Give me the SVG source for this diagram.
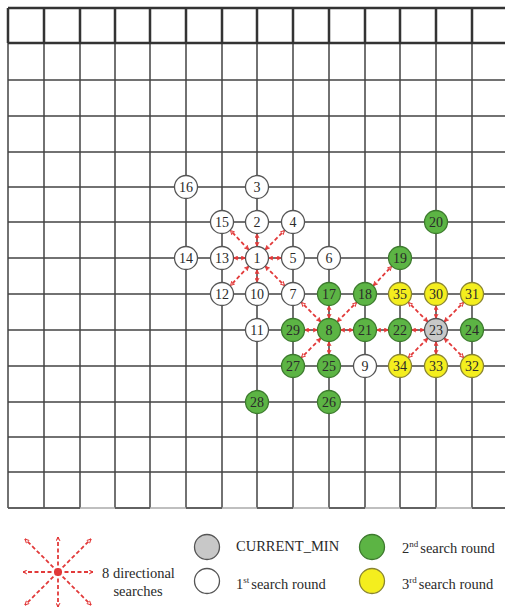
<svg xmlns="http://www.w3.org/2000/svg" width="505" height="614" viewBox="0 0 505 614" font-family="Liberation Serif, Times New Roman, serif">
<style>
.g{stroke:#444;stroke-width:1.5;fill:none}
.gt{stroke:#333;stroke-width:2.5;fill:none}
.w{fill:#fff;stroke:#555;stroke-width:1.3}
.gr{fill:#5cb444;stroke:#3d7a2e;stroke-width:1.3}
.y{fill:#f4ee1e;stroke:#8a8530;stroke-width:1.3}
.c{fill:#c8c8c8;stroke:#555;stroke-width:1.3}
.n{font-size:14px;fill:#2a2a2a;text-anchor:middle}
.l{font-size:14.5px;fill:#2a2a2a}
.a{stroke:#e23a3a;stroke-width:1.8;stroke-dasharray:4 2.5;fill:none;marker-start:url(#ah);marker-end:url(#ah)}
.s{stroke:#e23a3a;stroke-width:1.8;stroke-dasharray:4 2.5;fill:none;marker-end:url(#ah)}
</style>
<defs>
<marker id="ah" viewBox="0 0 10 10" refX="9" refY="5" markerWidth="5" markerHeight="5" markerUnits="userSpaceOnUse" orient="auto-start-reverse">
<path d="M1,1 L9,5 L1,9" fill="none" stroke="#e23a3a" stroke-width="2"/>
</marker>
</defs>
<rect width="505" height="614" fill="#fff"/>
<g id="grid">
<path class="g" d="M8,80H505M8,116H505M8,152H505M8,187H505M8,222H505M8,258H505M8,294H505M8,330H505M8,366H505M8,402H505M8,437H505M8,472H505"/>
<path class="g" d="M8,43V508M44,43V508M80,43V508M115,43V508M150,43V508M186,43V508M222,43V508M257,43V508M293,43V508M329,43V508M365,43V508M400,43V508M436,43V508M472,43V508"/>
<path stroke="#aaa" stroke-width="1.5" d="M8,508H505"/>
<path class="g" d="M8,508H80M115,508H150M186,508H222M257,508H293M329,508H365M400,508H436M472,508H505"/>
<path class="gt" d="M8,8H505M8,43H505M8,8V43M44,8V43M80,8V43M115,8V43M150,8V43M186,8V43M222,8V43M257,8V43M293,8V43M329,8V43M365,8V43M400,8V43M436,8V43M472,8V43"/>
</g>
<g id="connectors">
<path class="a" d="M257,246V234"/>
<path class="a" d="M265.5,249.5L284.5,230.5"/>
<path class="a" d="M269,258H281"/>
<path class="a" d="M265.5,266.5L284.5,285.5"/>
<path class="a" d="M257,270V282"/>
<path class="a" d="M248.5,266.5L230.5,285.5"/>
<path class="a" d="M245,258H234"/>
<path class="a" d="M248.5,249.5L230.5,230.5"/>
<path class="a" d="M320.5,321.5L301.5,302.5"/>
<path class="a" d="M329,318V306"/>
<path class="a" d="M337.5,321.5L356.5,302.5"/>
<path class="a" d="M341,330H353"/>
<path class="a" d="M329,342V354"/>
<path class="a" d="M320.5,338.5L301.5,357.5"/>
<path class="a" d="M317,330H305"/>
<path class="a" d="M373.5,285.5L391.5,266.5"/>
<path class="a" d="M377,330H388"/>
<path class="a" d="M424,330H412"/>
<path class="a" d="M427.5,321.5L408.5,302.5"/>
<path class="a" d="M436,318V306"/>
<path class="a" d="M444.5,321.5L463.5,302.5"/>
<path class="a" d="M444.5,338.5L463.5,357.5"/>
<path class="a" d="M436,342V354"/>
<path class="a" d="M427.5,338.5L408.5,357.5"/>
</g>
<g id="n16"><circle class="w" cx="186" cy="187" r="11.5"/><text class="n" x="186" y="192">16</text></g>
<g id="n3"><circle class="w" cx="257" cy="187" r="11.5"/><text class="n" x="257" y="192">3</text></g>
<g id="n15"><circle class="w" cx="222" cy="222" r="11.5"/><text class="n" x="222" y="227">15</text></g>
<g id="n2"><circle class="w" cx="257" cy="222" r="11.5"/><text class="n" x="257" y="227">2</text></g>
<g id="n4"><circle class="w" cx="293" cy="222" r="11.5"/><text class="n" x="293" y="227">4</text></g>
<g id="n20"><circle class="gr" cx="436" cy="222" r="11.5"/><text class="n" x="436" y="227">20</text></g>
<g id="n14"><circle class="w" cx="186" cy="258" r="11.5"/><text class="n" x="186" y="263">14</text></g>
<g id="n13"><circle class="w" cx="222" cy="258" r="11.5"/><text class="n" x="222" y="263">13</text></g>
<g id="n1"><circle class="w" cx="257" cy="258" r="11.5"/><text class="n" x="257" y="263">1</text></g>
<g id="n5"><circle class="w" cx="293" cy="258" r="11.5"/><text class="n" x="293" y="263">5</text></g>
<g id="n6"><circle class="w" cx="329" cy="258" r="11.5"/><text class="n" x="329" y="263">6</text></g>
<g id="n19"><circle class="gr" cx="400" cy="258" r="11.5"/><text class="n" x="400" y="263">19</text></g>
<g id="n12"><circle class="w" cx="222" cy="294" r="11.5"/><text class="n" x="222" y="299">12</text></g>
<g id="n10"><circle class="w" cx="257" cy="294" r="11.5"/><text class="n" x="257" y="299">10</text></g>
<g id="n7"><circle class="w" cx="293" cy="294" r="11.5"/><text class="n" x="293" y="299">7</text></g>
<g id="n17"><circle class="gr" cx="329" cy="294" r="11.5"/><text class="n" x="329" y="299">17</text></g>
<g id="n18"><circle class="gr" cx="365" cy="294" r="11.5"/><text class="n" x="365" y="299">18</text></g>
<g id="n35"><circle class="y" cx="400" cy="294" r="11.5"/><text class="n" x="400" y="299">35</text></g>
<g id="n30"><circle class="y" cx="436" cy="294" r="11.5"/><text class="n" x="436" y="299">30</text></g>
<g id="n31"><circle class="y" cx="472" cy="294" r="11.5"/><text class="n" x="472" y="299">31</text></g>
<g id="n11"><circle class="w" cx="257" cy="330" r="11.5"/><text class="n" x="257" y="335">11</text></g>
<g id="n29"><circle class="gr" cx="293" cy="330" r="11.5"/><text class="n" x="293" y="335">29</text></g>
<g id="n8"><circle class="gr" cx="329" cy="330" r="11.5"/><text class="n" x="329" y="335">8</text></g>
<g id="n21"><circle class="gr" cx="365" cy="330" r="11.5"/><text class="n" x="365" y="335">21</text></g>
<g id="n22"><circle class="gr" cx="400" cy="330" r="11.5"/><text class="n" x="400" y="335">22</text></g>
<g id="n23"><circle class="c" cx="436" cy="330" r="11.5"/><text class="n" x="436" y="335">23</text></g>
<g id="n24"><circle class="gr" cx="472" cy="330" r="11.5"/><text class="n" x="472" y="335">24</text></g>
<g id="n27"><circle class="gr" cx="293" cy="366" r="11.5"/><text class="n" x="293" y="371">27</text></g>
<g id="n25"><circle class="gr" cx="329" cy="366" r="11.5"/><text class="n" x="329" y="371">25</text></g>
<g id="n9"><circle class="w" cx="365" cy="366" r="11.5"/><text class="n" x="365" y="371">9</text></g>
<g id="n34"><circle class="y" cx="400" cy="366" r="11.5"/><text class="n" x="400" y="371">34</text></g>
<g id="n33"><circle class="y" cx="436" cy="366" r="11.5"/><text class="n" x="436" y="371">33</text></g>
<g id="n32"><circle class="y" cx="472" cy="366" r="11.5"/><text class="n" x="472" y="371">32</text></g>
<g id="n28"><circle class="gr" cx="257" cy="402" r="11.5"/><text class="n" x="257" y="407">28</text></g>
<g id="n26"><circle class="gr" cx="329" cy="402" r="11.5"/><text class="n" x="329" y="407">26</text></g>
<g id="legend">
<path class="s" d="M58,572H23"/>
<path class="s" d="M58,572H93"/>
<path class="s" d="M58,572V537"/>
<path class="s" d="M58,572V607"/>
<path class="s" d="M58,572L25,539"/>
<path class="s" d="M58,572L91,539"/>
<path class="s" d="M58,572L25,605"/>
<path class="s" d="M58,572L91,605"/>
<circle cx="58" cy="572" r="4" fill="#e23a3a"/>
<text class="l" x="102" y="578">8 directional</text>
<text class="l" x="138" y="596" text-anchor="middle">searches</text>
<circle class="c" cx="207" cy="547" r="12.5"/>
<circle class="w" cx="207" cy="581" r="12.5"/>
<circle class="gr" cx="372" cy="547" r="12.5"/>
<circle class="y" cx="372" cy="581" r="12.5"/>
<text class="l" x="236" y="551">CURRENT_MIN</text>
<text class="l" x="236" y="589">1<tspan font-size="9" dy="-6">st</tspan><tspan dy="6" dx="2">search round</tspan></text>
<text class="l" x="402" y="553">2<tspan font-size="9" dy="-6">nd</tspan><tspan dy="6" dx="2">search round</tspan></text>
<text class="l" x="402" y="589">3<tspan font-size="9" dy="-6">rd</tspan><tspan dy="6" dx="2">search round</tspan></text>
</g>
</svg>
